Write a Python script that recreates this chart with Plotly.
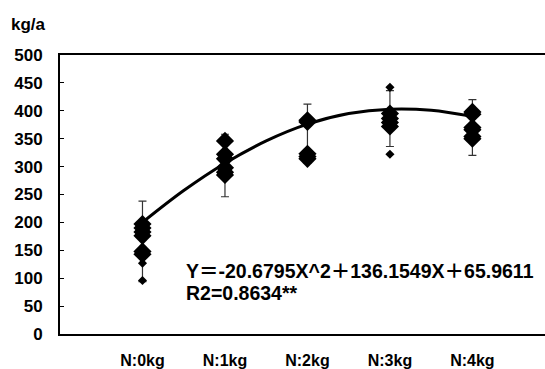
import plotly.graph_objects as go

categories = ["N:0kg", "N:1kg", "N:2kg", "N:3kg", "N:4kg"]
cat_pos = [1, 2, 3, 4, 5]

# individual observations (large diamonds)
big_n0 = [197, 190, 183, 176, 148, 143]
big_n1 = [346, 322, 314, 298, 290, 285]
big_n2 = [383, 380, 323, 318, 314]
big_n3 = [395, 386, 379, 372]
big_n4 = [398, 394, 370, 366, 354, 350]

# individual observations (small diamonds)
small_n0 = [127, 96]
small_n1 = []
small_n2 = []
small_n3 = [442, 322]
small_n4 = []

# mean and standard deviation per category
means = [166, 302, 359, 386, 370]
sds = [72, 56, 53, 50, 50]

# trendline values
trend_x = [1, 1.5, 2, 2.5, 3, 3.5, 4, 4.5, 5]
trend_y = [200, 257, 306, 346, 376, 395, 403, 401, 390]

eq_line1 = "Y＝-20.6795X^2＋136.1549X＋65.9611"
eq_line2 = "R2=0.8634**"
y_unit = "kg/a"

big_groups = [big_n0, big_n1, big_n2, big_n3, big_n4]
small_groups = [small_n0, small_n1, small_n2, small_n3, small_n4]

bx, by = [], []
for p, g in zip(cat_pos, big_groups):
    bx += [p] * len(g)
    by += g
sx, sy = [], []
for p, g in zip(cat_pos, small_groups):
    sx += [p] * len(g)
    sy += g

fig = go.Figure()
fig.add_trace(go.Scatter(
    x=cat_pos, y=means, mode="markers",
    marker=dict(size=1, color="rgba(0,0,0,0)"),
    error_y=dict(type="data", array=sds, visible=True, color="#333", thickness=1.2, width=4),
    showlegend=False, hoverinfo="skip"))
fig.add_trace(go.Scatter(
    x=trend_x, y=trend_y, mode="lines", line=dict(color="black", width=3, shape="spline"),
    showlegend=False))
fig.add_trace(go.Scatter(
    x=bx, y=by, mode="markers",
    marker=dict(symbol="diamond", size=14, color="black"), showlegend=False))
fig.add_trace(go.Scatter(
    x=sx, y=sy, mode="markers",
    marker=dict(symbol="diamond", size=7, color="black"), showlegend=False))

fig.update_layout(
    width=545, height=369,
    margin=dict(l=60, r=0, t=55, b=30),
    paper_bgcolor="white", plot_bgcolor="white",
    xaxis=dict(range=[0, 5.88], tickvals=cat_pos, ticktext=categories,
               showgrid=False, zeroline=False, showline=True, linecolor="black",
               linewidth=2, mirror=True, ticks="", ticklabelstandoff=11,
               tickfont=dict(family="Liberation Sans, Arial, sans-serif", size=16, color="black", weight="bold")),
    yaxis=dict(range=[0, 500], dtick=50, showgrid=False, zeroline=False,
               showline=True, linecolor="black", linewidth=2,
               ticks="inside", ticklen=4, tickcolor="black",
               ticklabelstandoff=12,
               tickfont=dict(family="Liberation Sans, Arial, sans-serif", size=17, color="black", weight="bold")),
    annotations=[
        dict(text="<b>" + y_unit + "</b>", xref="paper", yref="paper",
             x=-0.105, y=1.11, xanchor="left", yanchor="middle", showarrow=False,
             font=dict(family="Liberation Sans, Arial, sans-serif", size=17, color="black")),
        dict(text="<b>" + eq_line1 + "</b>", xref="x", yref="y",
             x=1.5, y=113, xanchor="left", yanchor="middle", showarrow=False,
             font=dict(family="Liberation Sans, Noto Sans CJK JP, sans-serif", size=19.5, color="black")),
        dict(text="<b>" + eq_line2 + "</b>", xref="x", yref="y",
             x=1.5, y=73, xanchor="left", yanchor="middle", showarrow=False,
             font=dict(family="Liberation Sans, Noto Sans CJK JP, sans-serif", size=19.5, color="black")),
    ],
)

fig.write_html("out.html", config={"displayModeBar": False},
               post_script="document.body.style.margin='0';")
